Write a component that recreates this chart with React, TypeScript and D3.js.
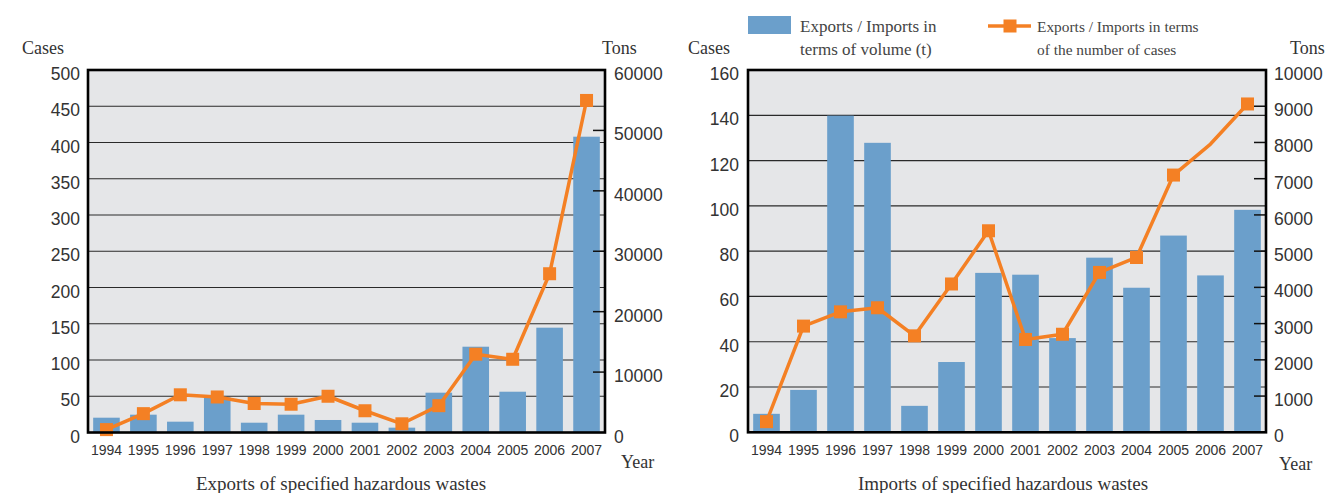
import React from "react";
import * as d3 from "d3";

const years = ["1994","1995","1996","1997","1998","1999","2000","2001","2002","2003","2004","2005","2006","2007"];

// Exports of specified hazardous wastes
const exportCases = [4, 26, 52, 49, 40, 39, 50, 30, 12, 37, 108, 101, 219, 458];
const exportTons = [2450, 2950, 1790, 5830, 1620, 2950, 2070, 1620, 800, 6590, 14200, 6750, 17350, 48960];
const exportCaseTicks = [0, 50, 100, 150, 200, 250, 300, 350, 400, 450, 500];
const exportTonTicks = [0, 10000, 20000, 30000, 40000, 50000, 60000];

// Imports of specified hazardous wastes
const importCases = [4.7, 46.9, 53.2, 55, 42.6, 65.5, 89, 41, 43.3, 70.6, 77.2, 113.6, 127.3, 145];
const importTons = [510, 1170, 8740, 7990, 730, 1940, 4400, 4350, 2600, 4820, 3990, 5430, 4330, 6140];
const importCaseTicks = [0, 20, 40, 60, 80, 100, 120, 140, 160];
const importTonTicks = [0, 1000, 2000, 3000, 4000, 5000, 6000, 7000, 8000, 9000, 10000];
const importNoMarker = ["2006"];

const legendLabels = [
  ["Exports / Imports in", "terms of volume (t)"],
  ["Exports / Imports in terms", "of the number of cases"],
];

const BAR = "#6b9fcb";
const ORANGE = "#f48024";
const BG = "#e5e6e8";
const TXT = "#333";
const SANS = "'Liberation Sans', Arial, Helvetica, sans-serif";
const SERIF = "'Liberation Serif', 'Times New Roman', serif";

type PanelProps = {
  x0: number; x1: number; y0: number; y1: number;
  cases: number[]; tons: number[];
  caseTicks: number[]; tonTicks: number[];
  title: string; titleX: number; noMarker?: string[];
  leftLabelX: number; rightLabelX: number; casesX: number; tonsX: number; yearX: number; yearY: number;
};

function Panel(p: PanelProps) {
  const x = d3.scaleBand<string>().domain(years).range([p.x0, p.x1]).paddingInner(0.28).paddingOuter(0.14);
  const yC = d3.scaleLinear().domain([0, p.caseTicks[p.caseTicks.length - 1]]).range([p.y1, p.y0]);
  const yT = d3.scaleLinear().domain([0, p.tonTicks[p.tonTicks.length - 1]]).range([p.y1, p.y0]);
  const cx = (y: string) => (x(y) as number) + x.bandwidth() / 2;
  const line = d3.line<number>().x((_, i) => cx(years[i])).y((v) => yC(v));
  const noMarker = p.noMarker || [];
  return (
    <g>
      <rect x={p.x0} y={p.y0} width={p.x1 - p.x0} height={p.y1 - p.y0} fill={BG} />
      {p.caseTicks.slice(1, -1).map((t) => (
        <line key={t} x1={p.x0} x2={p.x1} y1={yC(t)} y2={yC(t)} stroke="#2a2a2a" strokeWidth={1.2} />
      ))}
      {p.tons.map((v, i) => (
        <rect key={years[i]} x={x(years[i])} y={yT(v)} width={x.bandwidth()} height={p.y1 - yT(v)} fill={BAR} />
      ))}
      {p.tonTicks.slice(1, -1).map((t) => (
        <line key={t} x1={p.x1 - 12} x2={p.x1} y1={yT(t)} y2={yT(t)} stroke="#111" strokeWidth={1.5} />
      ))}
      <path d={line(p.cases) || ""} fill="none" stroke={ORANGE} strokeWidth={3.5} strokeLinejoin="round" />
      {p.cases.map((v, i) =>
        noMarker.includes(years[i]) ? null : (
          <rect key={years[i]} x={cx(years[i]) - 6.5} y={yC(v) - 6.5} width={13} height={13} fill={ORANGE} />
        )
      )}
      <rect x={p.x0} y={p.y0} width={p.x1 - p.x0} height={p.y1 - p.y0} fill="none" stroke="#000" strokeWidth={2.6} />
      {p.caseTicks.map((t) => (
        <text key={t} x={p.leftLabelX} y={yC(t) + 10} textAnchor="end" fontFamily={SANS} fontSize={17.5} fill={TXT}>{t}</text>
      ))}
      {p.tonTicks.map((t) => (
        <text key={t} x={p.rightLabelX} y={yT(t) + 10} textAnchor="start" fontFamily={SANS} fontSize={17.5} fill={TXT}>{t}</text>
      ))}
      {years.map((y) => (
        <text key={y} x={cx(y)} y={455} textAnchor="middle" fontFamily={SANS} fontSize={14} fill={TXT}>{y}</text>
      ))}
      <text x={p.casesX} y={54} fontFamily={SERIF} fontSize={18} fill={TXT}>Cases</text>
      <text x={p.tonsX} y={54} fontFamily={SERIF} fontSize={18} fill={TXT}>Tons</text>
      <text x={p.yearX} y={p.yearY} fontFamily={SERIF} fontSize={18} fill={TXT}>Year</text>
      <text x={p.titleX} y={490} textAnchor="middle" fontFamily={SERIF} fontSize={19} fill={TXT}>{p.title}</text>
    </g>
  );
}

export default function App() {
  return (
    <svg width={1329} height={493} style={{ position: "absolute", left: 0, top: 0, background: "#fff" }}>
      <Panel x0={88} x1={605} y0={70} y1={432.5} cases={exportCases} tons={exportTons}
        caseTicks={exportCaseTicks} tonTicks={exportTonTicks} title="Exports of specified hazardous wastes" titleX={341}
        leftLabelX={80} rightLabelX={614} casesX={22} tonsX={602} yearX={621} yearY={468} />
      <Panel x0={748} x1={1266} y0={70} y1={432.3} cases={importCases} tons={importTons}
        caseTicks={importCaseTicks} tonTicks={importTonTicks} title="Imports of specified hazardous wastes" titleX={1003}
        noMarker={importNoMarker}
        leftLabelX={739} rightLabelX={1274} casesX={688} tonsX={1290} yearX={1279} yearY={470} />
      {/* legend */}
      <rect x={748} y={16} width={43} height={18} fill={BAR} />
      <text fontFamily={SERIF} fontSize={17} fill="#444">
        <tspan x={800} y={32}>{legendLabels[0][0]}</tspan>
        <tspan x={800} y={55}>{legendLabels[0][1]}</tspan>
      </text>
      <line x1={988} x2={1031} y1={26} y2={26} stroke={ORANGE} strokeWidth={3.5} />
      <rect x={1003.5} y={19.5} width={13} height={13} fill={ORANGE} />
      <text fontFamily={SERIF} fontSize={15.4} fill="#444">
        <tspan x={1037} y={32}>{legendLabels[1][0]}</tspan>
        <tspan x={1037} y={55}>{legendLabels[1][1]}</tspan>
      </text>
    </svg>
  );
}
